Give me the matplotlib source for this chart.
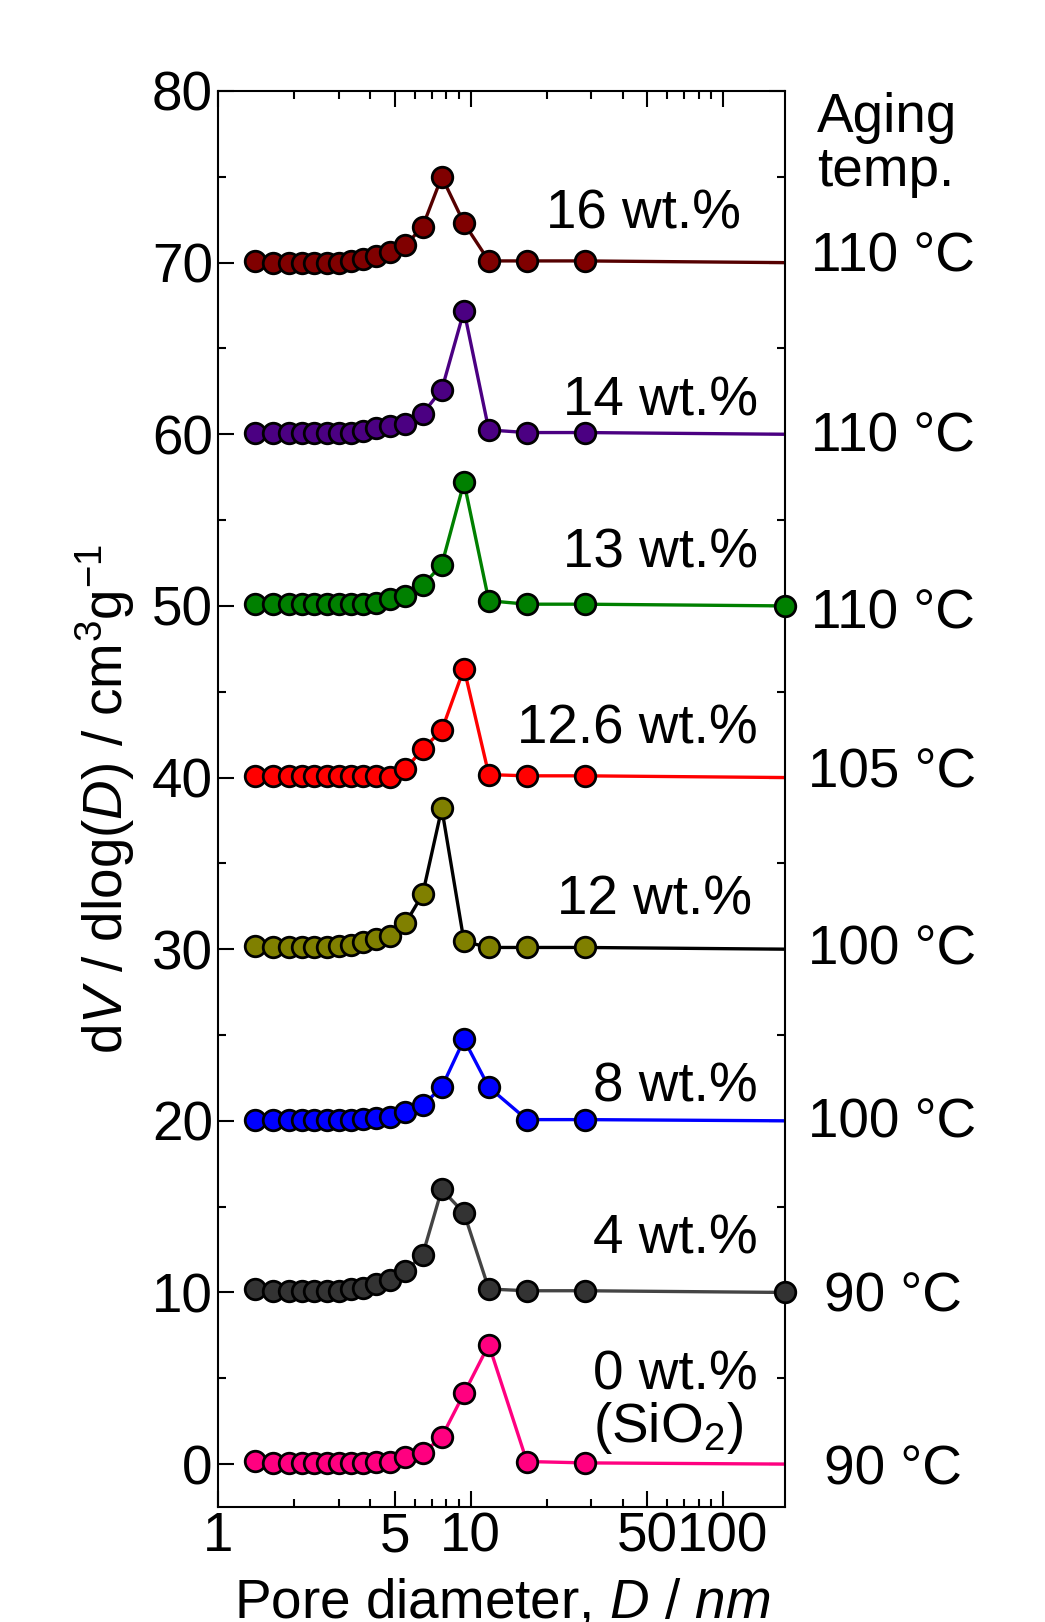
import numpy as np
import matplotlib.pyplot as plt
from matplotlib.ticker import FixedLocator, NullFormatter

plt.rcParams['font.family'] = ['Liberation Sans', 'DejaVu Sans']
plt.rcParams['mathtext.fontset'] = 'custom'
plt.rcParams['mathtext.rm'] = 'Liberation Sans'
plt.rcParams['mathtext.it'] = 'Liberation Sans:italic'

# pore diameters (nm), same for every sample; last one sits at the right edge
D = [1.40, 1.65, 1.91, 2.14, 2.39, 2.70, 3.00, 3.35, 3.74, 4.23, 4.78, 5.51,
     6.45, 7.68, 9.41, 11.8, 16.7, 28.3, 176]

# dV/dlog(D), already offset by 10 per sample
y_16 = [70.1, 70.0, 70.0, 70.0, 70.0, 70.0, 70.0, 70.1, 70.2, 70.4, 70.6, 71.0,
        72.1, 75.0, 72.3, 70.1, 70.1, 70.1, 70.0]
y_14 = [60.1, 60.1, 60.1, 60.1, 60.1, 60.1, 60.1, 60.1, 60.2, 60.35, 60.5, 60.6,
        61.2, 62.6, 67.2, 60.25, 60.1, 60.1, 60.0]
y_13 = [50.1, 50.1, 50.1, 50.1, 50.1, 50.1, 50.1, 50.1, 50.1, 50.15, 50.4, 50.6,
        51.2, 52.4, 57.2, 50.3, 50.1, 50.1, 50.0]
y_126 = [40.1, 40.1, 40.1, 40.1, 40.1, 40.1, 40.1, 40.1, 40.1, 40.1, 40.05, 40.5,
         41.65, 42.76, 46.35, 40.17, 40.1, 40.1, 40.0]
y_12 = [30.18, 30.12, 30.12, 30.12, 30.12, 30.12, 30.2, 30.25, 30.4, 30.57, 30.76, 31.5,
        33.2, 38.2, 30.45, 30.1, 30.1, 30.1, 30.0]
y_8 = [20.07, 20.07, 20.07, 20.07, 20.07, 20.07, 20.07, 20.07, 20.1, 20.15, 20.2, 20.54,
       20.9, 21.96, 24.74, 21.96, 20.07, 20.07, 20.0]
y_4 = [10.22, 10.1, 10.1, 10.1, 10.1, 10.1, 10.1, 10.2, 10.25, 10.5, 10.7, 11.23,
       12.19, 16.0, 14.63, 10.2, 10.1, 10.1, 10.0]
y_0 = [0.19, 0.05, 0.05, 0.05, 0.05, 0.05, 0.05, 0.05, 0.05, 0.1, 0.15, 0.42,
       0.62, 1.59, 4.12, 6.96, 0.15, 0.07, 0.0]

series = [y_16, y_14, y_13, y_126, y_12, y_8, y_4, y_0]
fills = ['#800000', '#4b0082', '#008000', '#ff0000', '#808000', '#0000ff', '#333333', '#ff0080']
lines = ['#550000', '#4b0082', '#008000', '#ff0000', '#000000', '#0000ff', '#444444', '#ff0080']
n_marked = [18, 18, 19, 18, 18, 18, 19, 18]

labels = ['16 wt.%', '14 wt.%', '13 wt.%', '12.6 wt.%', '12 wt.%', '8 wt.%', '4 wt.%',
          '0 wt.%\n(SiO$_2$)']
label_x = [118, 137.6, 137.6, 137.6, 131, 137.6, 137.6, 137.6]
label_y = [72.0, 61.1, 52.25, 42.0, 32.0, 21.1, 12.25, 1.3]
temps = ['110 °C', '110 °C', '110 °C', '105 °C', '100 °C', '100 °C', '90 °C', '90 °C']
temp_y = [69.5, 59.0, 48.7, 39.4, 29.1, 19.0, 8.9, -1.2]

fs = 39.5

fig = plt.figure(figsize=(10.45, 16.22), dpi=100)
ax = fig.add_axes([0.209, 0.0709, 0.5421, 0.873])

for ys, fc, lc, n in zip(series, fills, lines, n_marked):
    ax.plot(D, ys, '-', color=lc, lw=2.4, zorder=2)
    ax.plot(D[:n], ys[:n], 'o', ms=14.8, mfc=fc, mec='black', mew=2.0,
            clip_on=False, zorder=3)

for t, x, y in zip(labels, label_x, label_y):
    ax.text(x, y, t, fontsize=fs, ha='right', va='baseline', linespacing=0.95,
            multialignment='left')

for t, y in zip(temps, temp_y):
    ax.text(470, y, t, fontsize=fs, ha='center', va='baseline', clip_on=False)

ax.text(1.057, 0.999, 'Aging\ntemp.', transform=ax.transAxes, fontsize=fs,
        ha='left', va='top', linespacing=1.05)

ax.set_xscale('log')
ax.set_xlim(1, 176)
ax.set_ylim(-2.5, 80)

ax.xaxis.set_major_locator(FixedLocator([1, 5, 10, 50, 100]))
ax.xaxis.set_minor_locator(FixedLocator([2, 3, 4, 6, 7, 8, 9, 20, 30, 40, 60, 70, 80, 90]))
ax.xaxis.set_minor_formatter(NullFormatter())
ax.set_xticklabels(['1', '5', '10', '50', '100'])
ax.yaxis.set_major_locator(FixedLocator(range(0, 81, 10)))
ax.yaxis.set_minor_locator(FixedLocator(range(5, 80, 10)))

ax.tick_params(which='both', direction='in', top=True, right=True, width=1.5,
               labelsize=fs)
ax.tick_params(which='major', length=11.5)
ax.tick_params(which='minor', length=6)
ax.tick_params(axis='x', pad=3)
ax.tick_params(axis='y', pad=4)
for s in ax.spines.values():
    s.set_linewidth(1.5)

ax.set_xlabel(r'Pore diameter, $\it{D}$ / $\it{nm}$', fontsize=fs)
ax.set_ylabel(r'd$\it{V}$ / dlog($\it{D}$) / cm$^3$g$^{-1}$', fontsize=fs)
ax.xaxis.set_label_coords(0.5, -0.05)
ax.yaxis.set_label_coords(-0.144, 0.5)

fig.savefig('out.png', dpi=100)
